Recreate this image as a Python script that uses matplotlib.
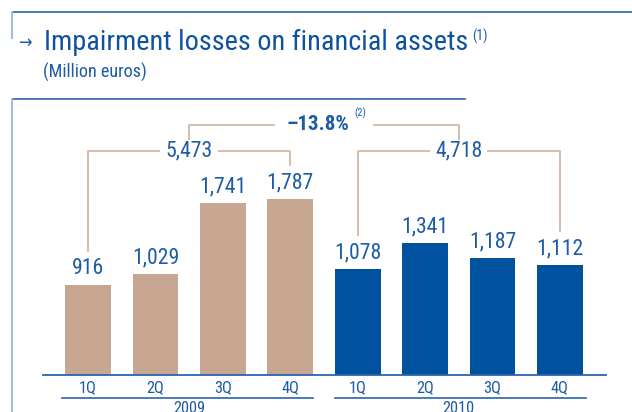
import numpy as np
import matplotlib
matplotlib.use("Agg")
import matplotlib.pyplot as plt
import matplotlib.font_manager as fm
from matplotlib.lines import Line2D

# data
quarters = ['1Q', '2Q', '3Q', '4Q']
years = ['2009', '2010']
values_2009 = [916, 1029, 1741, 1787]
values_2010 = [1078, 1341, 1187, 1112]
total_2009 = 5473
total_2010 = 4718
change = '–13.8%'

# colours
tan = '#c8a792'
blue = '#00519e'
txt_blue = '#1d5ba5'
line_tan = '#d5b8a8'
frame_blue = '#2a65ad'
frame_light = '#a3bddf'

# the original uses a narrow face; look for a condensed one that is installed
narrow_stretch = ('condensed', 'semi-condensed', 'extra-condensed', 'ultra-condensed')
found = []
for f in fm.fontManager.ttflist:
    st = f.stretch
    is_narrow = ('Narrow' in f.name or 'Condensed' in f.name or st in narrow_stretch
                 or (isinstance(st, int) and st < 500))
    if is_narrow and f.style == 'normal' and f.weight in (400, 'normal', 'regular'):
        found.append(f)
pref = ['Liberation Sans Narrow', 'Roboto Condensed', 'Open Sans Condensed',
        'Noto Sans', 'DejaVu Sans', 'Open Sans']
found.sort(key=lambda f: pref.index(f.name) if f.name in pref else 99)
if found:
    plt.rcParams['font.family'] = [found[0].name, 'DejaVu Sans']
    plt.rcParams['font.stretch'] = found[0].stretch
else:
    plt.rcParams['font.family'] = ['Roboto', 'DejaVu Sans']

W, H = 632, 412
fig = plt.figure(figsize=(W / 100, H / 100), dpi=100)

def fx(px):
    return px / W

def fy(py):
    return 1 - py / H

# size all text so the title is as wide as in the original
title = fig.text(fx(44), fy(50), 'Impairment losses on financial assets',
                 fontsize=21.5, color='#0f529e', va='baseline')
fig.canvas.draw()
k = 424 / title.get_window_extent().width
k = min(k, 1.15)
title.set_fontsize(21.5 * k)

# frame lines round the title and the chart
fig.add_artist(Line2D([fx(12), 1], [fy(12), fy(12)], color=frame_blue, lw=1.2))
fig.add_artist(Line2D([fx(12), fx(12)], [fy(12), fy(38)], color=frame_light, lw=1.5))
fig.add_artist(Line2D([fx(12), fx(465)], [fy(99), fy(99)], color=frame_blue, lw=1.2))
fig.add_artist(Line2D([fx(12), fx(12)], [fy(99), 0], color=frame_light, lw=1.5))

fig.text(fx(18), fy(48), '→', fontsize=13, color=txt_blue, va='baseline',
         family=['DejaVu Sans'])
fig.text(fx(43), fy(78), '(Million euros)', fontsize=13.8 * k, color=txt_blue,
         va='baseline')

# chart axes
ax = fig.add_axes([fx(43), fy(375), fx(606) - fx(43), (375 - 110) / H])
x = np.arange(8)
ax.bar(x[:4], values_2009, width=0.68, color=tan)
ax.bar(x[4:], values_2010, width=0.68, color=blue)
ax.set_xlim(-0.668, 7.685)
ax.set_ylim(0, 2690)

for s in ['top', 'right', 'left']:
    ax.spines[s].set_visible(False)
ax.spines['bottom'].set_color(frame_blue)
ax.spines['bottom'].set_linewidth(1.3)
ax.set_yticks([])
ax.set_xticks(x, quarters * 2)
ax.tick_params(axis='x', length=0, pad=4, labelsize=12.5 * k, labelcolor=txt_blue)

# value labels
all_values = values_2009 + values_2010
for xi, v in zip(x, all_values):
    ax.annotate(f'{v:,}', (xi, v), xytext=(0, 4), textcoords='offset points',
                ha='center', va='bottom', fontsize=16.5 * k, color=txt_blue)

# year underlines and labels
trans = ax.get_xaxis_transform()
for i, yr in enumerate(years):
    x0 = x[4 * i] - 0.39 if i == 0 else x[4 * i] - 0.34
    x1 = x[4 * i + 3] + 0.34 if i == 0 else x[4 * i + 3] + 0.39
    ax.plot([x0, x1], [-0.087, -0.087], transform=trans, color=frame_blue,
            lw=1.2, clip_on=False)
    ax.text(x[4 * i] + 1.5, -0.097, yr, transform=trans, ha='center', va='top',
            fontsize=12.5 * k, color=txt_blue)

# brackets
lvl = 2274
top_lvl = 2538
drop = 335

def seg(xs, ys, c=line_tan):
    ax.plot(xs, ys, color=c, lw=1.3, clip_on=False, solid_capstyle='butt')

def bracket(xa, xb, ya, yb, level, gap, label):
    mid = (xa + xb) / 2
    seg([xa, xa, mid - gap], [ya, level, level])
    seg([mid + gap, xb, xb], [level, level, yb])
    ax.text(mid, level, label, ha='center', va='center', fontsize=16.5 * k,
            color=txt_blue)

bracket(x[0], x[3], values_2009[0] + drop, values_2009[3] + drop, lvl, 0.43,
        f'{total_2009:,}')
bracket(x[4], x[7], values_2010[0] + drop, values_2010[3] + drop, lvl, 0.42,
        f'{total_2010:,}')

# top bracket for the change
seg([1.5, 1.5, 2.77], [2386, top_lvl, top_lvl])
seg([4.23, 5.5, 5.5], [top_lvl, top_lvl, 2386])
ax.text(3.88, top_lvl, change, ha='right', va='center', fontsize=16 * k,
        fontweight='semibold', color=txt_blue)
ax.text(3.95, top_lvl + 60, '(2)', ha='left', va='bottom', fontsize=8 * k,
        color=txt_blue)

# superscript after the title
fig.canvas.draw()
bb = title.get_window_extent()
fig.text(bb.x1 / W + fx(4), fy(41), '(1)', fontsize=10.5 * k, color=txt_blue,
         va='baseline')

fig.savefig('out.png', dpi=100)
